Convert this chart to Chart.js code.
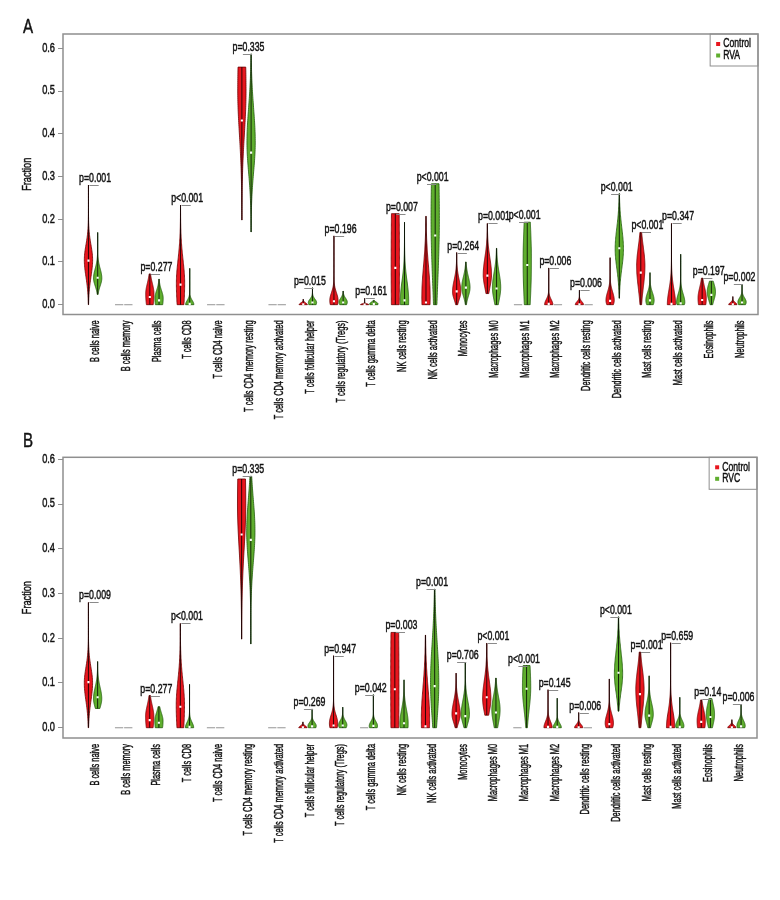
<!DOCTYPE html>
<html>
<head>
<meta charset="utf-8">
<script src="https://cdn.jsdelivr.net/npm/chart.js@4.4.1/dist/chart.umd.min.js"></script>
<style>
  html, body { margin: 0; padding: 0; background: #fff; }
  #wrap { position: relative; width: 780px; height: 900px; }
  canvas { position: absolute; left: 0; }
  #chartA { top: 0; }
  #chartB { top: 420px; }
</style>
</head>
<body>
<div id="wrap">
  <canvas id="chartA" width="780" height="450"></canvas>
  <canvas id="chartB" width="780" height="480"></canvas>
</div>
<script>
// cell types on the x axis
const categories = [
    'B cells naive', 'B cells memory', 'Plasma cells', 'T cells CD8', 'T cells CD4 naive',
    'T cells CD4 memory resting', 'T cells CD4 memory activated', 'T cells follicular helper',
    'T cells regulatory (Tregs)', 'T cells gamma delta', 'NK cells resting', 'NK cells activated',
    'Monocytes', 'Macrophages M0', 'Macrophages M1', 'Macrophages M2', 'Dendritic cells resting',
    'Dendritic cells activated', 'Mast cells resting', 'Mast cells activated', 'Eosinophils', 'Neutrophils'
];
const yTicks = [0, 0.1, 0.2, 0.3, 0.4, 0.5, 0.6];

// one row per cell type: [min, max, median, densest value, spread below, spread above]
const controlA = [
    [0, 0.28, 0.103, 0.105, 0.04, 0.035],
    [0, 0, 0, 0, 0, 0],
    [0, 0.072, 0.018, 0.025, 0.04, 0.025],
    [0, 0.233, 0.047, 0.05, 0.08, 0.055],
    [0, 0, 0, 0, 0, 0],
    [0.198, 0.556, 0.431, 0.5, 0.1, 0.15],
    [0, 0, 0, 0, 0, 0],
    [0, 0.013, 0.001, 0, 0.01, 0.004],
    [0, 0.161, 0.008, 0.01, 0.02, 0.018],
    [0, 0.015, 0, 0, 0.01, 0.002],
    [0, 0.213, 0.086, 0.1, 0.3, 0.3],
    [0, 0.207, 0.005, 0.02, 0.1, 0.07],
    [0, 0.122, 0.031, 0.03, 0.018, 0.028],
    [0.026, 0.19, 0.068, 0.07, 0.03, 0.04],
    [0, 0, 0, 0, 0, 0],
    [0, 0.086, 0.002, 0, 0.01, 0.012],
    [0, 0.034, 0.001, 0, 0.01, 0.007],
    [0, 0.11, 0.009, 0.01, 0.015, 0.02],
    [0, 0.169, 0.075, 0.09, 0.05, 0.045],
    [0, 0.19, 0.002, 0, 0.01, 0.035],
    [0, 0.062, 0.011, 0.015, 0.03, 0.025],
    [0, 0.019, 0.001, 0, 0.01, 0.005]
];
const rvaA = [
    [0.024, 0.169, 0.063, 0.062, 0.018, 0.022],
    [0, 0, 0, 0, 0, 0],
    [0, 0.06, 0.01, 0.015, 0.03, 0.018],
    [0, 0.085, 0.002, 0, 0.01, 0.01],
    [0, 0, 0, 0, 0, 0],
    [0.17, 0.587, 0.356, 0.38, 0.07, 0.08],
    [0, 0, 0, 0, 0, 0],
    [0, 0.04, 0.005, 0.005, 0.01, 0.008],
    [0, 0.032, 0.005, 0.006, 0.01, 0.009],
    [0, 0.01, 0.002, 0.002, 0.01, 0.004],
    [0, 0.193, 0.01, 0.01, 0.05, 0.045],
    [0, 0.283, 0.162, 0.2, 0.15, 0.2],
    [0, 0.1, 0.04, 0.04, 0.02, 0.025],
    [0, 0.132, 0.038, 0.04, 0.03, 0.035],
    [0, 0.193, 0.093, 0.1, 0.12, 0.12],
    [0, 0, 0, 0, 0, 0],
    [0, 0, 0, 0, 0, 0],
    [0.015, 0.26, 0.132, 0.13, 0.045, 0.05],
    [0, 0.075, 0.01, 0.01, 0.015, 0.018],
    [0, 0.118, 0.003, 0.005, 0.01, 0.02],
    [0, 0.055, 0.023, 0.03, 0.02, 0.02],
    [0, 0.048, 0.005, 0.006, 0.01, 0.01]
];
const controlB = [
    [0, 0.28, 0.102, 0.1, 0.04, 0.035],
    [0, 0, 0, 0, 0, 0],
    [0, 0.072, 0.017, 0.025, 0.04, 0.025],
    [0, 0.233, 0.047, 0.05, 0.08, 0.055],
    [0, 0, 0, 0, 0, 0],
    [0.198, 0.556, 0.432, 0.5, 0.1, 0.15],
    [0, 0, 0, 0, 0, 0],
    [0, 0.013, 0.001, 0, 0.01, 0.004],
    [0, 0.161, 0.005, 0.01, 0.02, 0.018],
    [0, 0, 0, 0, 0, 0],
    [0, 0.213, 0.086, 0.1, 0.3, 0.3],
    [0, 0.207, 0.003, 0.02, 0.1, 0.07],
    [0, 0.122, 0.032, 0.03, 0.018, 0.028],
    [0.028, 0.189, 0.068, 0.065, 0.03, 0.04],
    [0, 0, 0, 0, 0, 0],
    [0, 0.085, 0.002, 0, 0.01, 0.014],
    [0, 0.034, 0.001, 0, 0.01, 0.007],
    [0, 0.109, 0.008, 0.01, 0.015, 0.02],
    [0, 0.169, 0.075, 0.085, 0.05, 0.045],
    [0, 0.19, 0.002, 0, 0.01, 0.035],
    [0, 0.062, 0.013, 0.015, 0.03, 0.025],
    [0, 0.018, 0.001, 0, 0.01, 0.005]
];
const rvcB = [
    [0.043, 0.148, 0.068, 0.065, 0.02, 0.025],
    [0, 0, 0, 0, 0, 0],
    [0, 0.047, 0.011, 0.015, 0.03, 0.018],
    [0, 0.097, 0.002, 0, 0.01, 0.012],
    [0, 0, 0, 0, 0, 0],
    [0.187, 0.562, 0.42, 0.44, 0.07, 0.07],
    [0, 0, 0, 0, 0, 0],
    [0, 0.042, 0.003, 0.004, 0.01, 0.008],
    [0, 0.046, 0.005, 0.006, 0.01, 0.01],
    [0, 0.074, 0.004, 0.004, 0.01, 0.01],
    [0, 0.107, 0.01, 0.01, 0.04, 0.03],
    [0, 0.31, 0.093, 0.1, 0.08, 0.09],
    [0, 0.146, 0.026, 0.03, 0.02, 0.03],
    [0, 0.111, 0.034, 0.04, 0.03, 0.03],
    [0, 0.139, 0.087, 0.09, 0.05, 0.08],
    [0, 0.066, 0.002, 0, 0.01, 0.01],
    [0, 0, 0, 0, 0, 0],
    [0.037, 0.248, 0.123, 0.12, 0.04, 0.05],
    [0, 0.116, 0.027, 0.03, 0.02, 0.025],
    [0, 0.068, 0.002, 0.004, 0.01, 0.012],
    [0, 0.065, 0.024, 0.03, 0.025, 0.025],
    [0, 0.053, 0.003, 0.004, 0.01, 0.012]
];

const pValuesA = ['p=0.001', '', 'p=0.277', 'p<0.001', '', 'p=0.335', '', 'p=0.015', 'p=0.196', 'p=0.161', 'p=0.007',
    'p<0.001', 'p=0.264', 'p=0.001', 'p<0.001', 'p=0.006', 'p=0.006', 'p<0.001', 'p<0.001', 'p=0.347', 'p=0.197', 'p=0.002'];
const pValuesB = ['p=0.009', '', 'p=0.277', 'p<0.001', '', 'p=0.335', '', 'p=0.269', 'p=0.947', 'p=0.042', 'p=0.003',
    'p=0.001', 'p=0.706', 'p<0.001', 'p<0.001', 'p=0.145', 'p=0.006', 'p<0.001', 'p=0.001', 'p=0.659', 'p=0.14', 'p=0.006'];

const FONT = "'Liberation Sans', Arial, sans-serif";
Chart.defaults.font.family = FONT;
Chart.defaults.font.size = 12;
Chart.defaults.color = '#111';

const TEXT = '#111';
const FRAME = '#8f8f8f';
const RED = { fill: '#e8161e', line: '#6e0000' };
const GREEN = { fill: '#5fae2e', line: '#1f5a0a' };
const SHIFT = 0.15;      // distance of each violin from the category centre
const HALF_WIDTH = 0.135; // widest point of a violin, in category units

// the original uses a very narrow typeface, so squeeze the text horizontally
// and give it a hairline stroke so it keeps its weight
function narrowText(ctx, text, x, y, size, squeeze, align, baseline, rotate) {
    ctx.save();
    ctx.translate(x, y);
    if (rotate) ctx.rotate(-Math.PI / 2);
    ctx.scale(squeeze, 1);
    ctx.font = `${size}px ${FONT}`;
    ctx.textAlign = align;
    ctx.textBaseline = baseline;
    ctx.fillStyle = TEXT;
    ctx.strokeStyle = TEXT;
    ctx.lineWidth = 0.45;
    ctx.fillText(text, 0, 0);
    ctx.strokeText(text, 0, 0);
    ctx.restore();
}

function widthAt(row, y) {
    const peak = row[3];
    const s = y < peak ? row[4] : row[5];
    const d = (y - peak) / s;
    return Math.exp(-0.5 * d * d);
}

function drawViolin(ctx, xs, ys, x, row, col) {
    const [min, max] = row;
    const xc = xs.getPixelForValue(x);
    const hw = xs.getPixelForValue(x + HALF_WIDTH) - xc;

    // all zeros: just a grey dash on the baseline
    if (max <= min) {
        const py = ys.getPixelForValue(min);
        ctx.strokeStyle = '#a6a6a6';
        ctx.lineWidth = 1.2;
        ctx.beginPath();
        ctx.moveTo(xc - hw, py);
        ctx.lineTo(xc + hw, py);
        ctx.stroke();
        return;
    }

    const n = 80;
    const pts = [];
    for (let k = 0; k <= n; k++) {
        const y = min + (max - min) * k / n;
        pts.push([ys.getPixelForValue(y), widthAt(row, y) * hw]);
    }
    ctx.beginPath();
    pts.forEach(([py, w], k) => k ? ctx.lineTo(xc - w, py) : ctx.moveTo(xc - w, py));
    for (let k = n; k >= 0; k--) ctx.lineTo(xc + pts[k][1], pts[k][0]);
    ctx.closePath();
    ctx.fillStyle = col.fill;
    ctx.fill();
    ctx.strokeStyle = col.line;
    ctx.lineWidth = 0.8;
    ctx.stroke();

    // whisker
    ctx.beginPath();
    ctx.moveTo(xc, ys.getPixelForValue(min));
    ctx.lineTo(xc, ys.getPixelForValue(max));
    ctx.strokeStyle = 'rgba(0,0,0,0.8)';
    ctx.lineWidth = 1;
    ctx.stroke();
}

function medianPoints(rows, shift) {
    return rows
        .map((r, i) => r[1] > r[0] ? { x: i + shift, y: r[2] } : null)
        .filter(Boolean);
}

const violinPlugin = {
    id: 'violins',
    beforeDatasetsDraw(chart, args, opts) {
        const { ctx, scales: { x: xs, y: ys } } = chart;
        ctx.save();
        categories.forEach((_, i) => {
            drawViolin(ctx, xs, ys, i - SHIFT, opts.control[i], RED);
            drawViolin(ctx, xs, ys, i + SHIFT, opts.other[i], GREEN);
        });
        ctx.restore();
    },
    afterDraw(chart, args, opts) {
        const { ctx, chartArea: a, scales: { x: xs, y: ys } } = chart;
        ctx.save();

        // plot frame
        ctx.strokeStyle = FRAME;
        ctx.lineWidth = 1.5;
        ctx.strokeRect(a.left, a.top, a.right - a.left, a.bottom - a.top);

        // axis labels
        yTicks.forEach(v => {
            narrowText(ctx, v.toFixed(1), a.left - 8, ys.getPixelForValue(v), 12.5, 0.74, 'right', 'middle');
        });
        narrowText(ctx, 'Fraction', 27, (a.top + a.bottom) / 2, 13.5, 0.68, 'center', 'middle', true);
        categories.forEach((c, i) => {
            narrowText(ctx, c, xs.getPixelForValue(i) + 2.5, a.bottom + 6, 13, 0.57, 'right', 'middle', true);
        });

        // p-values with short bracket
        opts.pValues.forEach((p, i) => {
            if (!p) return;
            const top = Math.max(opts.control[i][1], opts.other[i][1]);
            const py = Math.round(ys.getPixelForValue(top)) + 0.5;
            const xr = xs.getPixelForValue(i - SHIFT);
            const xg = xs.getPixelForValue(i + SHIFT);
            ctx.strokeStyle = '#8a8a8a';
            ctx.lineWidth = 1;
            ctx.beginPath();
            ctx.moveTo(xr + 1, py);
            ctx.lineTo(xg + 1, py);
            ctx.stroke();
            narrowText(ctx, p, (xr + xg) / 2 + 2, py - 4, 12, 0.73, 'center', 'alphabetic');
        });

        // legend box
        ctx.font = `12px ${FONT}`;
        const tw = Math.max(...opts.legend.map(l => ctx.measureText(l).width)) * 0.72;
        const w = tw + 20, h = 32;
        const x0 = a.right - w, y0 = a.top;
        ctx.strokeStyle = FRAME;
        ctx.lineWidth = 1;
        ctx.strokeRect(x0, y0, w, h);
        [RED, GREEN].forEach((c, i) => {
            const cy = y0 + 10 + i * 11.5;
            ctx.fillStyle = c.fill;
            ctx.fillRect(x0 + 6, cy - 2, 4, 4);
            narrowText(ctx, opts.legend[i], x0 + 13, cy, 12, 0.72, 'left', 'middle');
        });

        // panel letter
        narrowText(ctx, opts.letter, 23, a.top + opts.letterDy, 21, 0.72, 'left', 'alphabetic');

        ctx.restore();
    }
};

function makePanel(canvasId, cfg) {
    return new Chart(document.getElementById(canvasId), {
        type: 'scatter',
        data: {
            datasets: [
                { data: medianPoints(cfg.control, -SHIFT) },
                { data: medianPoints(cfg.other, SHIFT) }
            ]
        },
        options: {
            responsive: false,
            animation: false,
            events: [],
            layout: { padding: { top: cfg.top, right: cfg.right, left: 0, bottom: 0 } },
            elements: {
                point: { pointStyle: 'rect', radius: 1.5, backgroundColor: '#ffffff', borderWidth: 0 }
            },
            plugins: {
                legend: { display: false },
                tooltip: { enabled: false },
                violins: {
                    control: cfg.control,
                    other: cfg.other,
                    pValues: cfg.pValues,
                    legend: cfg.legend,
                    letter: cfg.letter,
                    letterDy: cfg.letterDy
                }
            },
            scales: {
                x: {
                    type: 'linear',
                    min: -0.98,
                    max: 21.67,
                    afterBuildTicks: s => { s.ticks = categories.map((_, i) => ({ value: i })); },
                    afterFit: s => { s.height = cfg.xAxisHeight; },
                    border: { display: false },
                    grid: { display: false },
                    ticks: { display: false }
                },
                y: {
                    min: cfg.yMin,
                    max: cfg.yMax,
                    afterBuildTicks: s => { s.ticks = yTicks.map(v => ({ value: v })); },
                    afterFit: s => { s.width = 63; },
                    border: { display: false },
                    grid: { drawOnChartArea: false, drawTicks: true, tickLength: 5, color: FRAME },
                    ticks: { display: false }
                }
            }
        },
        plugins: [violinPlugin]
    });
}

makePanel('chartA', {
    control: controlA, other: rvaA, pValues: pValuesA,
    legend: ['Control', 'RVA'], letter: 'A', letterDy: -1,
    top: 34, right: 22, xAxisHeight: 135.5,
    yMin: -0.023, yMax: 0.6335
});

makePanel('chartB', {
    control: controlB, other: rvcB, pValues: pValuesB,
    legend: ['Control', 'RVC'], letter: 'B', letterDy: -10,
    top: 37.3, right: 23, xAxisHeight: 162,
    yMin: -0.023, yMax: 0.6045
});
</script>
</body>
</html>
